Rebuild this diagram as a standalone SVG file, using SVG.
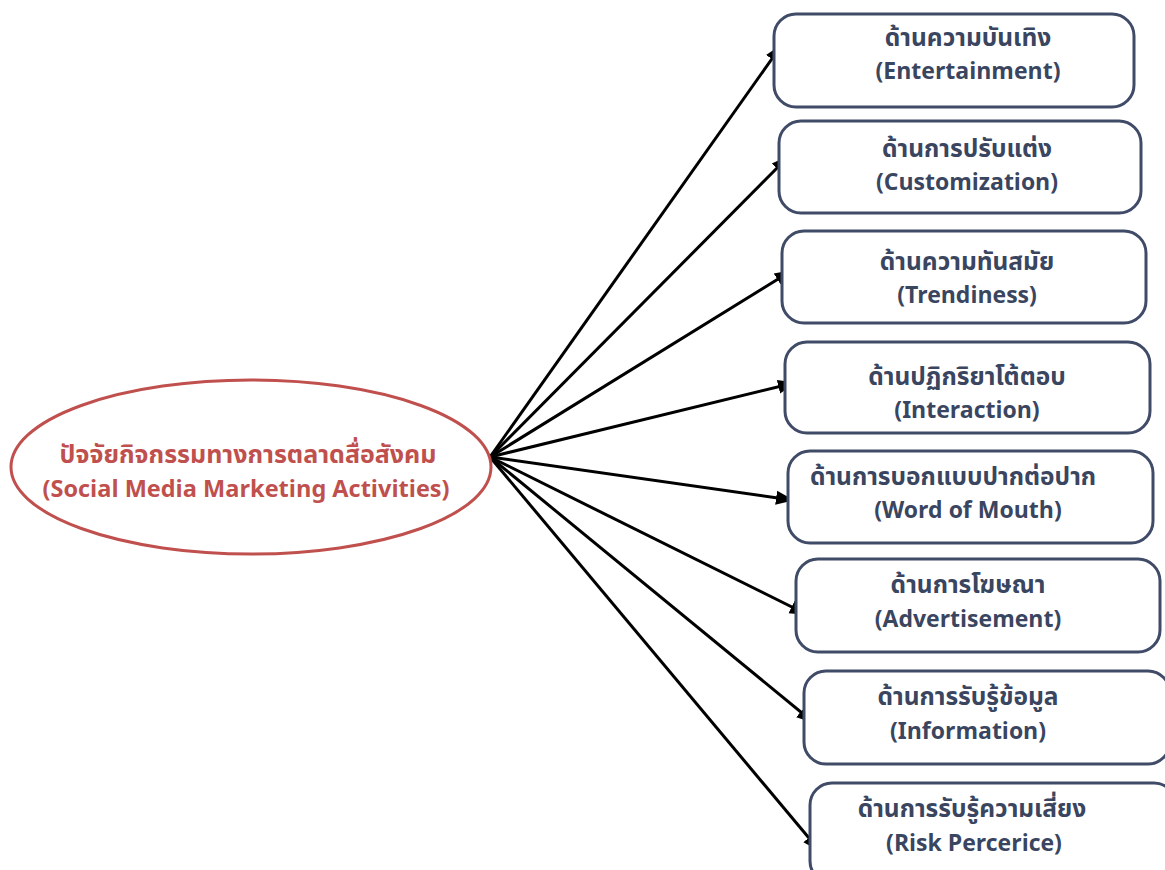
<svg xmlns="http://www.w3.org/2000/svg" width="1165" height="870" viewBox="0 0 1165 870">
  <style>
    .box { fill: #ffffff; stroke: #404b68; stroke-width: 3; }
    .hub { fill: #ffffff; stroke: #c0504d; stroke-width: 3; }
    .lbl, .hubl { font-family: "Noto Sans Thai", "Noto Sans", "Liberation Sans", sans-serif; font-weight: bold; text-anchor: middle; }
    .lbl { fill: #3a4560; }
    .hubl { fill: #c0504d; }
    .th { font-size: 24.5px; }
    .en { font-size: 23px; }
    .hth { font-size: 25px; }
    .hen { font-size: 23.5px; }
    .edge { stroke: #000000; stroke-width: 3; fill: none; marker-end: url(#head); }
  </style>
  <defs>
    <marker id="head" markerUnits="userSpaceOnUse" markerWidth="18" markerHeight="18" viewBox="0 0 18 18" refX="16" refY="9" orient="auto">
      <path d="M0,2 L18,9 L0,16 Z" fill="#000000"/>
    </marker>
  </defs>
  <rect width="1165" height="870" fill="#ffffff"/>

  <g id="connectors">
    <line class="edge" x1="490" y1="457" x2="781" y2="46"/>
    <line class="edge" x1="490" y1="457" x2="788" y2="157"/>
    <line class="edge" x1="490" y1="457" x2="791" y2="271"/>
    <line class="edge" x1="490" y1="457" x2="794" y2="383"/>
    <line class="edge" x1="490" y1="457" x2="792" y2="500"/>
    <line class="edge" x1="490" y1="457" x2="806" y2="614"/>
    <line class="edge" x1="490" y1="457" x2="813" y2="722"/>
    <line class="edge" x1="490" y1="457" x2="819" y2="850"/>
  </g>

  <g id="hub">
    <ellipse class="hub" cx="251" cy="467" rx="240" ry="87"/>
    <text class="hubl hth" x="248" y="463">ปัจจัยกิจกรรมทางการตลาดสื่อสังคม</text>
    <text class="hubl hen" x="246" y="497">(Social Media Marketing Activities)</text>
  </g>

  <g id="entertainment">
    <rect class="box" x="774" y="14" width="360" height="93" rx="22"/>
    <text class="lbl th" x="968" y="46">ด้านความบันเทิง</text>
    <text class="lbl en" x="968" y="79">(Entertainment)</text>
  </g>
  <g id="customization">
    <rect class="box" x="779" y="121" width="362" height="92" rx="22"/>
    <text class="lbl th" x="967" y="157">ด้านการปรับแต่ง</text>
    <text class="lbl en" x="967" y="190">(Customization)</text>
  </g>
  <g id="trendiness">
    <rect class="box" x="782" y="231" width="364" height="92" rx="22"/>
    <text class="lbl th" x="967" y="270">ด้านความทันสมัย</text>
    <text class="lbl en" x="967" y="303">(Trendiness)</text>
  </g>
  <g id="interaction">
    <rect class="box" x="785" y="342" width="365" height="91" rx="22"/>
    <text class="lbl th" x="967" y="385">ด้านปฏิกริยาโต้ตอบ</text>
    <text class="lbl en" x="967" y="418">(Interaction)</text>
  </g>
  <g id="word-of-mouth">
    <rect class="box" x="788" y="451" width="365" height="92" rx="22"/>
    <text class="lbl th" x="953" y="485">ด้านการบอกแบบปากต่อปาก</text>
    <text class="lbl en" x="968" y="518">(Word of Mouth)</text>
  </g>
  <g id="advertisement">
    <rect class="box" x="796" y="559" width="364" height="93" rx="22"/>
    <text class="lbl th" x="968" y="593">ด้านการโฆษณา</text>
    <text class="lbl en" x="968" y="627">(Advertisement)</text>
  </g>
  <g id="information">
    <rect class="box" x="804" y="671" width="366" height="93" rx="22"/>
    <text class="lbl th" x="968" y="705">ด้านการรับรู้ข้อมูล</text>
    <text class="lbl en" x="968" y="739">(Information)</text>
  </g>
  <g id="risk-perception">
    <rect class="box" x="810" y="783" width="366" height="100" rx="22"/>
    <text class="lbl th" x="972" y="817">ด้านการรับรู้ความเสี่ยง</text>
    <text class="lbl en" x="974" y="851">(Risk Percerice)</text>
  </g>
</svg>
